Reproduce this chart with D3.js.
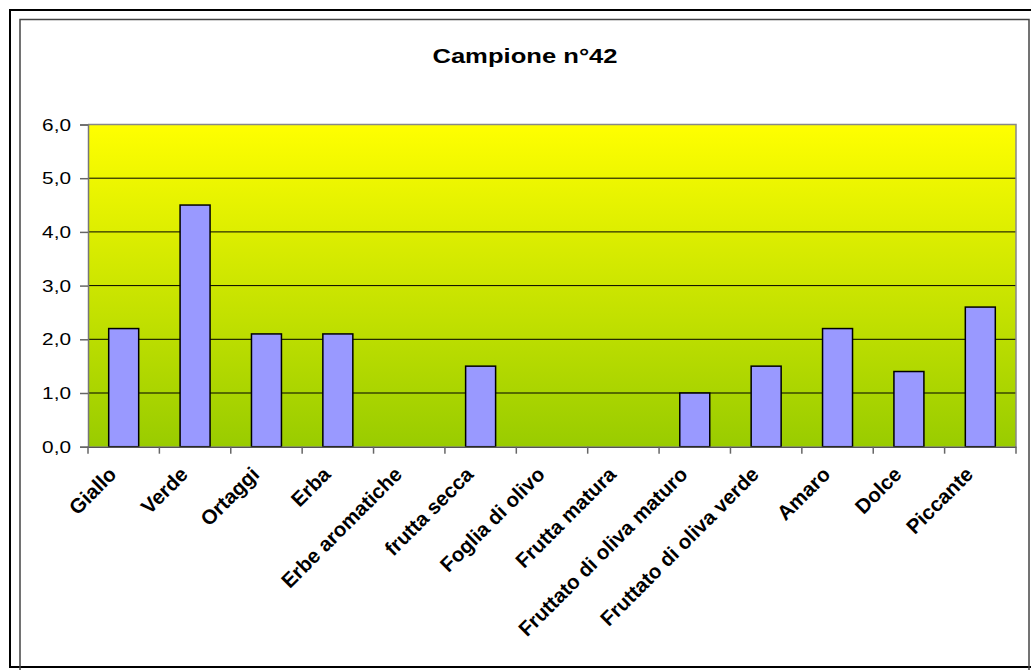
<!DOCTYPE html>
<html>
<head>
<meta charset="utf-8">
<script src="https://cdn.jsdelivr.net/npm/d3@7"></script>
<style>
  body { margin: 0; background: #fff; }
  svg { display: block; font-family: Arial, "Liberation Sans", sans-serif; }
</style>
</head>
<body>
<div id="chart"></div>
<script>
// chart data
const categories = ["Giallo", "Verde", "Ortaggi", "Erba", "Erbe aromatiche", "frutta secca",
    "Foglia di olivo", "Frutta matura", "Fruttato di oliva maturo", "Fruttato di oliva verde",
    "Amaro", "Dolce", "Piccante"];
const values = [2.2, 4.5, 2.1, 2.1, 0, 1.5, 0, 0, 1.0, 1.5, 2.2, 1.4, 2.6];
const yTicks = [0, 1, 2, 3, 4, 5, 6];
const title = "Campione n°42";

const W = 1031, H = 670;
const plot = { left: 88, top: 124.5, right: 1016, bottom: 446.7 };

const svg = d3.select("#chart").append("svg")
    .attr("width", W)
    .attr("height", H);

// gradient for the plot background
const grad = svg.append("defs").append("linearGradient")
    .attr("id", "bg")
    .attr("x1", 0).attr("y1", 0).attr("x2", 0).attr("y2", 1);
grad.append("stop").attr("offset", "0%").attr("stop-color", "#ffff00");
grad.append("stop").attr("offset", "100%").attr("stop-color", "#99cc00");

// frames
svg.append("rect")
    .attr("x", 10).attr("y", 10)
    .attr("width", 1040).attr("height", 657)
    .attr("fill", "none").attr("stroke", "#000").attr("stroke-width", 2);
svg.append("rect")
    .attr("x", 20).attr("y", 19.5)
    .attr("width", 1009).attr("height", 660)
    .attr("fill", "none").attr("stroke", "#444").attr("stroke-width", 1.5);

const x = d3.scaleBand()
    .domain(categories)
    .range([plot.left, plot.right]);

const y = d3.scaleLinear()
    .domain([0, 6])
    .range([plot.bottom, plot.top]);

// plot background
svg.append("rect")
    .attr("x", plot.left).attr("y", plot.top)
    .attr("width", plot.right - plot.left)
    .attr("height", plot.bottom - plot.top)
    .attr("fill", "url(#bg)");

// gridlines
svg.append("g")
    .selectAll("line")
    .data(yTicks.filter(d => d > 0 && d < 6))
    .enter()
    .append("line")
    .attr("x1", plot.left).attr("x2", plot.right)
    .attr("y1", d => y(d)).attr("y2", d => y(d))
    .attr("stroke", "#000").attr("stroke-width", 1);

// top and right border of plot
svg.append("path")
    .attr("d", `M${plot.left},${y(6)}H${plot.right}V${plot.bottom}`)
    .attr("fill", "none").attr("stroke", "#888").attr("stroke-width", 1.5);

// bars
const bw = x.bandwidth() * 0.42;
svg.append("g")
    .selectAll("rect")
    .data(categories.map((c, i) => ({ c: c, v: values[i] })).filter(d => d.v > 0))
    .enter()
    .append("rect")
    .attr("x", d => x(d.c) + x.bandwidth() / 2 - bw / 2)
    .attr("y", d => y(d.v))
    .attr("width", bw)
    .attr("height", d => y(0) - y(d.v))
    .attr("fill", "#9999ff")
    .attr("stroke", "#000")
    .attr("stroke-width", 1.5);

// y axis
const yAxis = svg.append("g")
    .attr("transform", `translate(${plot.left},0)`)
    .call(d3.axisLeft(y).tickValues(yTicks).tickSize(8).tickFormat(() => ""));
yAxis.select(".domain").attr("stroke", "#777").attr("stroke-width", 1.5);
yAxis.selectAll(".tick line").attr("stroke", "#666").attr("stroke-width", 1.5);

svg.append("g")
    .selectAll("text")
    .data(yTicks)
    .enter()
    .append("text")
    .attr("transform", d => `translate(71,${y(d) + 6}) scale(1.3,1)`)
    .attr("text-anchor", "end")
    .attr("font-size", 16)
    .attr("fill", "#000")
    .text(d => d3.format(".1f")(d).replace(".", ","));

// x axis
const xAxis = svg.append("g")
    .attr("transform", `translate(0,${plot.bottom})`)
    .call(d3.axisBottom(x).tickSize(0).tickFormat(""));
xAxis.select(".domain").attr("stroke", "#555").attr("stroke-width", 1.5);

svg.append("g")
    .selectAll("line")
    .data(categories.concat([null]))
    .enter()
    .append("line")
    .attr("x1", (d, i) => plot.left + i * x.step())
    .attr("x2", (d, i) => plot.left + i * x.step())
    .attr("y1", plot.bottom)
    .attr("y2", plot.bottom + 7)
    .attr("stroke", "#666").attr("stroke-width", 1.5);

svg.append("g")
    .selectAll("text")
    .data(categories)
    .enter()
    .append("text")
    .attr("transform", d => `translate(${x(d) + x.bandwidth() / 2 - 6},${plot.bottom + 29}) rotate(-45)`)
    .attr("text-anchor", "end")
    .attr("font-size", 20.5)
    .attr("font-weight", "bold")
    .attr("fill", "#000")
    .text(d => d);

// title
svg.append("text")
    .attr("transform", `translate(525,63) scale(1.28,1)`)
    .attr("text-anchor", "middle")
    .attr("font-size", 20)
    .attr("font-weight", "bold")
    .text(title);
</script>
</body>
</html>
